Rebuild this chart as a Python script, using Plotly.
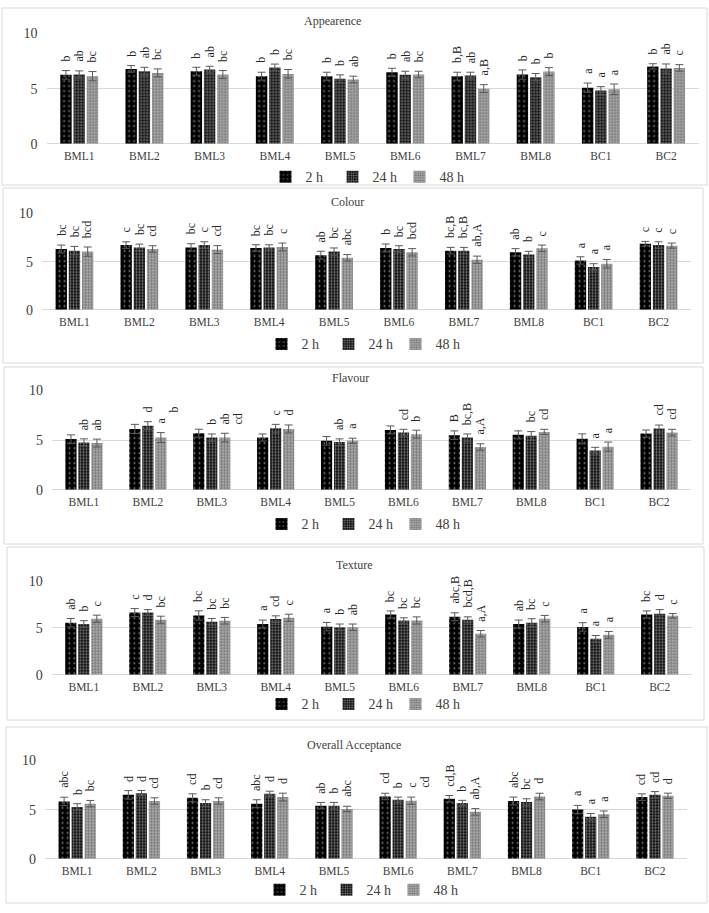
import plotly.graph_objects as go

W, H = 709, 913

CATEGORIES = ["BML1", "BML2", "BML3", "BML4", "BML5", "BML6", "BML7", "BML8", "BC1", "BC2"]
SERIES = ["2 h", "24 h", "48 h"]

# ---------------- Appearance ----------------
APP_2H = [6.25, 6.79, 6.58, 6.13, 6.13, 6.49, 6.13, 6.28, 5.09, 7.02]
APP_24H = [6.28, 6.58, 6.73, 6.93, 5.89, 6.25, 6.19, 6.04, 4.82, 6.82]
APP_48H = [6.13, 6.43, 6.28, 6.34, 5.83, 6.28, 5.00, 6.55, 4.94, 6.88]
APP_ERR_2H = [0.39, 0.30, 0.36, 0.36, 0.36, 0.36, 0.36, 0.42, 0.42, 0.24]
APP_ERR_24H = [0.33, 0.36, 0.30, 0.30, 0.36, 0.33, 0.30, 0.33, 0.36, 0.42]
APP_ERR_48H = [0.42, 0.36, 0.36, 0.39, 0.30, 0.30, 0.36, 0.36, 0.48, 0.30]
APP_LET_2H = ["b", "b", "b", "b", "b", "b", "b,B", "b", "a", "b"]
APP_LET_24H = ["ab", "ab", "ab", "b", "b", "ab", "ab", "b", "a", "ab"]
APP_LET_48H = ["bc", "bc", "bc", "bc", "ab", "bc", "a,B", "b", "a", "c"]
APP_LET_EXTRA = ["", "", "", "", "", "", "", "", "", ""]

# ---------------- Colour ----------------
COL_2H = [6.31, 6.72, 6.48, 6.42, 5.67, 6.42, 6.14, 5.97, 5.12, 6.86]
COL_24H = [6.14, 6.48, 6.72, 6.48, 6.04, 6.31, 6.14, 5.73, 4.44, 6.72]
COL_48H = [6.04, 6.31, 6.25, 6.52, 5.39, 5.97, 5.19, 6.38, 4.78, 6.66]
COL_ERR_2H = [0.41, 0.34, 0.38, 0.34, 0.41, 0.41, 0.34, 0.38, 0.38, 0.24]
COL_ERR_24H = [0.44, 0.34, 0.34, 0.27, 0.38, 0.34, 0.34, 0.34, 0.34, 0.34]
COL_ERR_48H = [0.48, 0.34, 0.41, 0.41, 0.34, 0.38, 0.38, 0.34, 0.44, 0.27]
COL_LET_2H = ["bc", "c", "bc", "bc", "ab", "b", "bc,B", "ab", "a", "c"]
COL_LET_24H = ["bc", "bc", "c", "bc", "bc", "bc", "bc,B", "b", "a", "c"]
COL_LET_48H = ["bcd", "cd", "cd", "c", "abc", "bcd", "ab,A", "c", "a", "c"]
COL_LET_EXTRA = ["", "", "", "", "", "", "", "", "", ""]

# ---------------- Flavour ----------------
FLA_2H = [5.10, 6.13, 5.70, 5.26, 4.93, 6.03, 5.50, 5.53, 5.13, 5.66]
FLA_24H = [4.77, 6.46, 5.26, 6.19, 4.80, 5.76, 5.26, 5.43, 3.94, 6.16]
FLA_48H = [4.70, 5.26, 5.26, 6.13, 4.93, 5.60, 4.30, 5.83, 4.34, 5.76]
FLA_ERR_2H = [0.43, 0.46, 0.40, 0.36, 0.43, 0.40, 0.43, 0.40, 0.50, 0.36]
FLA_ERR_24H = [0.36, 0.40, 0.36, 0.40, 0.33, 0.33, 0.36, 0.43, 0.33, 0.36]
FLA_ERR_48H = [0.40, 0.50, 0.43, 0.40, 0.26, 0.40, 0.33, 0.26, 0.46, 0.33]
FLA_LET_2H = ["", "", "", "", "", "", "B", "", "", ""]
FLA_LET_24H = ["ab", "d", "b", "c", "ab", "cd", "bc,B", "bc", "a", "cd"]
FLA_LET_48H = ["ab", "a", "ab", "d", "a", "b", "a,A", "cd", "a", "cd"]
FLA_LET_EXTRA = ["", "b", "cd", "", "", "", "", "", "", ""]

# ---------------- Texture ----------------
TEX_2H = [5.54, 6.62, 6.31, 5.40, 5.12, 6.41, 6.17, 5.40, 5.09, 6.41]
TEX_24H = [5.40, 6.62, 5.64, 5.92, 5.05, 5.78, 5.85, 5.54, 3.83, 6.48]
TEX_48H = [5.96, 5.85, 5.75, 6.06, 5.05, 5.78, 4.36, 5.96, 4.25, 6.27]
TEX_ERR_2H = [0.45, 0.42, 0.49, 0.42, 0.45, 0.38, 0.42, 0.42, 0.45, 0.38]
TEX_ERR_24H = [0.35, 0.31, 0.35, 0.35, 0.35, 0.28, 0.31, 0.42, 0.35, 0.45]
TEX_ERR_48H = [0.38, 0.38, 0.35, 0.38, 0.35, 0.38, 0.35, 0.35, 0.35, 0.24]
TEX_LET_2H = ["ab", "c", "bc", "a", "a", "bc", "abc,B", "ab", "a", "bc"]
TEX_LET_24H = ["b", "d", "bc", "cd", "b", "bc", "bcd,B", "bc", "a", "d"]
TEX_LET_48H = ["c", "bc", "bc", "c", "ab", "bc", "a,A", "c", "a", "c"]
TEX_LET_EXTRA = ["", "", "", "", "", "", "", "", "", ""]

# ---------------- Overall Acceptance ----------------
OA_2H = [5.83, 6.50, 6.20, 5.60, 5.40, 6.33, 6.10, 5.87, 5.00, 6.27]
OA_24H = [5.27, 6.67, 5.67, 6.60, 5.40, 6.00, 5.67, 5.77, 4.27, 6.50]
OA_48H = [5.60, 5.87, 5.87, 6.27, 5.07, 5.90, 4.77, 6.33, 4.53, 6.40]
OA_ERR_2H = [0.43, 0.43, 0.40, 0.40, 0.33, 0.33, 0.33, 0.40, 0.43, 0.33]
OA_ERR_24H = [0.33, 0.27, 0.33, 0.27, 0.33, 0.27, 0.27, 0.33, 0.33, 0.33]
OA_ERR_48H = [0.33, 0.33, 0.33, 0.40, 0.27, 0.37, 0.33, 0.33, 0.33, 0.27]
OA_LET_2H = ["abc", "d", "cd", "abc", "ab", "cd", "cd,B", "abc", "a", "cd"]
OA_LET_24H = ["b", "d", "b", "d", "b", "b", "b", "bc", "a", "cd"]
OA_LET_48H = ["bc", "cd", "cd", "d", "abc", "c", "ab,A", "d", "a", "d"]
OA_LET_EXTRA = ["", "", "", "", "", "cd", "", "", "", ""]

Y_TICKS = [0, 5, 10]

PANELS = [
    dict(title="Appearence", vals=[APP_2H, APP_24H, APP_48H], errs=[APP_ERR_2H, APP_ERR_24H, APP_ERR_48H],
         lets=[APP_LET_2H, APP_LET_24H, APP_LET_48H], extra=APP_LET_EXTRA),
    dict(title="Colour", vals=[COL_2H, COL_24H, COL_48H], errs=[COL_ERR_2H, COL_ERR_24H, COL_ERR_48H],
         lets=[COL_LET_2H, COL_LET_24H, COL_LET_48H], extra=COL_LET_EXTRA),
    dict(title="Flavour", vals=[FLA_2H, FLA_24H, FLA_48H], errs=[FLA_ERR_2H, FLA_ERR_24H, FLA_ERR_48H],
         lets=[FLA_LET_2H, FLA_LET_24H, FLA_LET_48H], extra=FLA_LET_EXTRA),
    dict(title="Texture", vals=[TEX_2H, TEX_24H, TEX_48H], errs=[TEX_ERR_2H, TEX_ERR_24H, TEX_ERR_48H],
         lets=[TEX_LET_2H, TEX_LET_24H, TEX_LET_48H], extra=TEX_LET_EXTRA),
    dict(title="Overall Acceptance", vals=[OA_2H, OA_24H, OA_48H], errs=[OA_ERR_2H, OA_ERR_24H, OA_ERR_48H],
         lets=[OA_LET_2H, OA_LET_24H, OA_LET_48H], extra=OA_LET_EXTRA),
]

# layout geometry in pixels (plot area, title, legend, border box)
GEOM = [
    dict(px=(46.6, 698.7), py=(27, 139), title=(332, 14), legend=(366, 173), box=(2, 1, 707, 181)),
    dict(px=(42.0, 691.0), py=(210, 307.7), title=(347, 198), legend=(362, 343), box=(3, 184, 703, 362)),
    dict(px=(52.0, 691.0), py=(390, 490.7), title=(350, 377), legend=(362, 526), box=(4, 366, 703, 546)),
    dict(px=(51.8, 691.7), py=(583.3, 679), title=(354, 567), legend=(362, 709), box=(7, 549, 704, 725)),
    dict(px=(45.1, 687.0), py=(766, 866), title=(354, 750), legend=(360, 898), box=(6, 732, 707, 911)),
]

FONT = "Liberation Serif"
TXT = "#404040"

PATTERNS = [
    dict(color="#000000", pattern=dict(shape=".", fgcolor="#ffffff", bgcolor="#000000", size=5, solidity=0.12)),
    dict(color="#2a2a2a", pattern=dict(shape=".", fgcolor="#ffffff", bgcolor="#111111", size=3, solidity=0.35)),
    dict(color="#7a7a7a", pattern=dict(shape=".", fgcolor="#3a3a3a", bgcolor="#b4b4b4", size=3, solidity=0.5)),
]

BARGAP = 0.39
BARGROUPGAP = 0.14
SLOT = (1 - BARGAP) / 3


def fx(x):
    return x / W


def fy(y):
    return 1 - y / H


fig = go.Figure()
annotations = []
shapes = []
layout = {}

for k, (panel, g) in enumerate(zip(PANELS, GEOM), start=1):
    sfx = "" if k == 1 else str(k)
    xa, ya = "x" + sfx, "y" + sfx
    leg = "legend" + sfx
    for si, name in enumerate(SERIES):
        p = PATTERNS[si]
        fig.add_trace(go.Bar(
            x=CATEGORIES, y=panel["vals"][si], name=name,
            xaxis=xa, yaxis=ya, legend=leg, showlegend=True,
            marker=dict(color=p["color"], pattern=p["pattern"], line=dict(width=0)),
            error_y=dict(type="data", array=panel["errs"][si], color="#595959", thickness=1, width=4),
        ))
        for ci, lab in enumerate(panel["lets"][si]):
            if lab:
                annotations.append(dict(
                    x=ci + (si - 1) * SLOT, y=panel["vals"][si][ci] + panel["errs"][si][ci],
                    xref=xa, yref=ya, text=lab, textangle=-90, showarrow=False,
                    xanchor="center", yanchor="bottom", yshift=7,
                    font=dict(family=FONT, size=12, color="#262626")))
    for ci, lab in enumerate(panel["extra"]):
        if lab:
            top = max(panel["vals"][2][ci] + panel["errs"][2][ci], panel["vals"][1][ci] + panel["errs"][1][ci])
            annotations.append(dict(
                x=ci + 2 * SLOT, y=top,
                xref=xa, yref=ya, text=lab, textangle=-90, showarrow=False,
                xanchor="center", yanchor="bottom", yshift=7,
                font=dict(family=FONT, size=12, color="#262626")))

    layout["xaxis" + sfx] = dict(
        domain=[fx(g["px"][0]), fx(g["px"][1])], anchor=ya,
        type="category", showgrid=False, showline=False, zeroline=False, ticks="",
        tickfont=dict(family=FONT, size=11.5, color=TXT), ticklabelstandoff=4,
    )
    layout["yaxis" + sfx] = dict(
        domain=[fy(g["py"][1]), fy(g["py"][0])], anchor=xa,
        range=[0, 10], tickvals=Y_TICKS, showgrid=True, gridcolor="#d9d9d9", gridwidth=1,
        zeroline=True, zerolinecolor="#d9d9d9", zerolinewidth=1, showline=False, ticks="",
        tickfont=dict(family=FONT, size=14, color=TXT), ticklabelstandoff=8,
    )
    layout[leg] = dict(
        orientation="h", x=fx(g["legend"][0]), y=fy(g["legend"][1]),
        xanchor="center", yanchor="middle", bgcolor="rgba(0,0,0,0)",
        font=dict(family=FONT, size=14, color=TXT), entrywidth=22, itemwidth=30,
        tracegroupgap=0,
    )
    annotations.append(dict(
        x=fx(g["title"][0]), y=fy(g["title"][1]), xref="paper", yref="paper",
        text=panel["title"], showarrow=False, xanchor="center", yanchor="middle",
        font=dict(family=FONT, size=12, color=TXT)))
    b = g["box"]
    shapes.append(dict(type="rect", xref="paper", yref="paper",
                       x0=fx(b[0]), x1=fx(b[2]), y0=fy(b[3]), y1=fy(b[1]),
                       line=dict(color="#d9d9d9", width=1), fillcolor="rgba(0,0,0,0)", layer="below"))

fig.update_layout(
    width=W, height=H, margin=dict(l=0, r=0, t=0, b=0),
    paper_bgcolor="white", plot_bgcolor="white",
    barmode="group", bargap=BARGAP, bargroupgap=BARGROUPGAP,
    annotations=annotations, shapes=shapes,
    font=dict(family=FONT, color=TXT),
    **layout,
)

fig.write_html("out.html")
